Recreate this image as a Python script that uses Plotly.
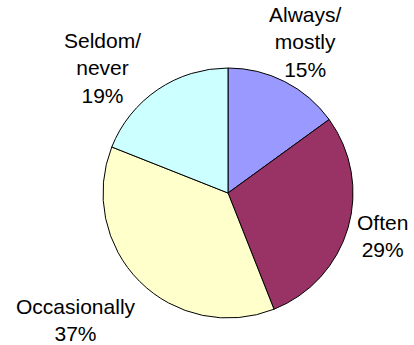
import math
import plotly.graph_objects as go

categories = ["Always/<br>mostly", "Often", "Occasionally", "Seldom/<br>never"]
values = [15, 29, 37, 19]
colors = ["#9999FF", "#993366", "#FFFFCC", "#CCFFFF"]

# label placement style (distance from pie centre in px, angular nudge in degrees)
label_dist = [170, 160, 198, 177]
label_nudge = [0.3, -0.6, 5.0, -10.8]

W, H = 414, 345
cx, cy, r = 228, 193, 125
FONT = dict(family="Liberation Sans, Arial, sans-serif", size=21, color="black")

fig = go.Figure(go.Pie(
    labels=categories,
    values=values,
    sort=False,
    direction="clockwise",
    rotation=0,
    marker=dict(colors=colors, line=dict(color="black", width=1)),
    textinfo="none",
    hoverinfo="skip",
    automargin=False,
    showlegend=False,
    domain=dict(x=[(cx - r) / W, (cx + r) / W], y=[(H - cy - r) / H, (H - cy + r) / H]),
))

total = sum(values)
cum = 0
annotations = []
for lab, v, d, nd in zip(categories, values, label_dist, label_nudge):
    mid = (cum + v / 2) / total * 360 + nd
    cum += v
    a = math.radians(mid)
    px = cx + d * math.sin(a)
    py = cy - d * math.cos(a)
    pct = round(v / total * 100)
    annotations.append(dict(
        x=px / W, y=1 - py / H, xref="paper", yref="paper",
        text=f"{lab}<br>{pct}%", showarrow=False,
        xanchor="center", yanchor="middle", align="center",
        font=FONT,
    ))

fig.update_layout(
    width=W, height=H,
    margin=dict(l=0, r=0, t=0, b=0),
    paper_bgcolor="white",
    plot_bgcolor="white",
    showlegend=False,
    annotations=annotations,
)

fig.write_html("out.html")
